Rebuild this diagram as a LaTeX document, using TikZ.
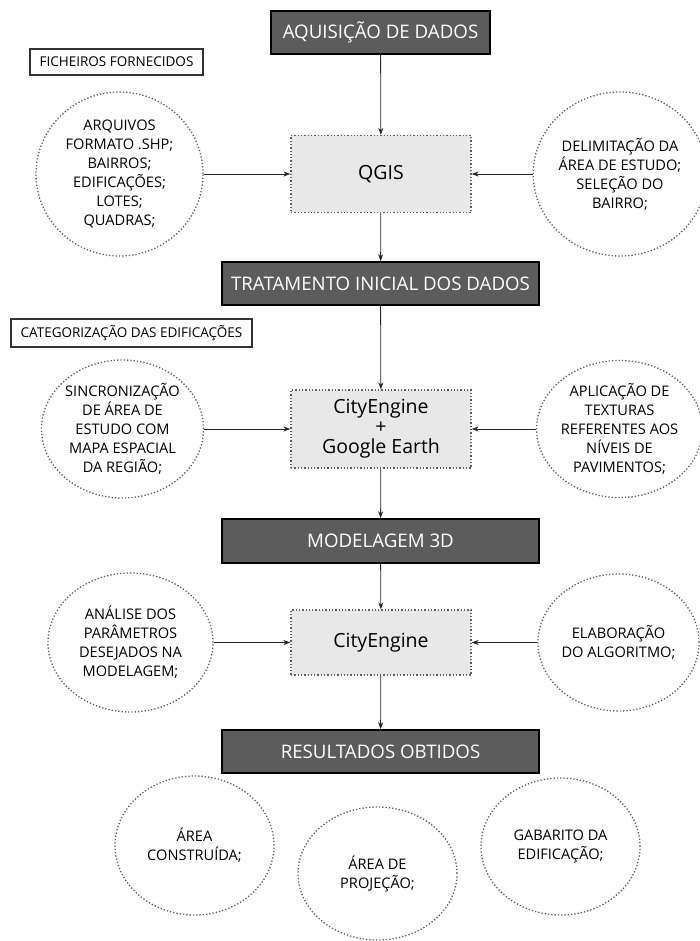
\documentclass[tikz,border=0pt]{standalone}
\usepackage{fontspec}
\setmainfont{Open Sans}
\usetikzlibrary{shapes.geometric,arrows.meta}
\definecolor{stagegray}{RGB}{92,92,92}
\definecolor{toolgray}{RGB}{232,232,232}
\definecolor{dotgray}{RGB}{95,95,95}
\begin{document}
\begin{tikzpicture}[x=1pt,y=-1pt,
	stage/.style={rectangle, draw=black, line width=1.6pt, fill=stagegray, text=white, minimum width=317, minimum height=43, font=\fontsize{18.7}{22}\selectfont},
	tool/.style={rectangle, draw=dotgray, dotted, line width=1.3pt, fill=toolgray, minimum width=180, font=\fontsize{19.5}{24}\selectfont, align=center},
	tag/.style={rectangle, draw=black!80, line width=1.1pt, fill=white, font=\fontsize{13.5}{17}\selectfont, inner sep=3pt},
	bubble/.style={ellipse, draw=dotgray, dotted, line width=1.3pt, inner sep=0pt, align=center, font=\fontsize{14.6}{19}\selectfont},
	flow/.style={draw=black!85, line width=0.8pt, -{Stealth[length=7pt,width=5pt]}}]
	\useasboundingbox (0,0) rectangle (699,941);
	% etapas
	\node (acq)  at (380.5,  32.5)	[stage, minimum width=219]	{AQUISIÇÃO DE DADOS};
	\node (trat) at (380.5, 283.5)	[stage]	{TRATAMENTO INICIAL DOS DADOS};
	\node (mod)  at (380.5, 541.0)	[stage, minimum height=44]	{MODELAGEM 3D};
	\node (res)  at (380.5, 751.5)	[stage]	{RESULTADOS OBTIDOS};
	% ferramentas
	\node (qgis) at (381, 174.0)	[tool, minimum height=77]	{QGIS};
	\node (ce1)  at (381, 429.0)	[tool, minimum height=78]	{CityEngine\\[-4pt]+\\[-4pt]Google Earth};
	\node (ce2)  at (381, 642.5)	[tool, minimum height=65]	{CityEngine};
	% rotulos
	\node (fich) at (116.5,  62)	[tag, minimum width=173, minimum height=26]	{FICHEIROS FORNECIDOS};
	\node (cat)  at (131.5, 333)	[tag, minimum width=241, minimum height=28]	{CATEGORIZAÇÃO DAS EDIFICAÇÕES};
	% entradas
	\node (inL1) at (119.5, 174.0)	[bubble, minimum width=167, minimum height=164]	{ARQUIVOS\\FORMATO .SHP;\\BAIRROS;\\EDIFICAÇÕES;\\LOTES;\\QUADRAS;};
	\node (inR1) at (620.0, 174.0)	[bubble, minimum width=156, minimum height=164]	{DELIMITAÇÃO DA\\ÁREA DE ESTUDO;\\SELEÇÃO DO\\BAIRRO;};
	\node (inL2) at (122.5, 429.0)	[bubble, minimum width=161, minimum height=138]	{SINCRONIZAÇÃO\\DE ÁREA DE\\ESTUDO COM\\MAPA ESPACIAL\\DA REGIÃO;};
	\node (inR2) at (619.5, 429.0)	[bubble, minimum width=159, minimum height=137]	{APLICAÇÃO DE\\TEXTURAS\\REFERENTES AOS\\NÍVEIS DE\\PAVIMENTOS;};
	\node (inL3) at (130.5, 642.5)	[bubble, minimum width=165, minimum height=139]	{ANÁLISE DOS\\PARÂMETROS\\DESEJADOS NA\\MODELAGEM;};
	\node (inR3) at (618.5, 642.5)	[bubble, minimum width=159, minimum height=137]	{ELABORAÇÃO\\DO ALGORITMO;};
	% saidas
	\node (out1) at (194.5, 845.5)	[bubble, minimum width=159, minimum height=139]	{ÁREA\\CONSTRUÍDA;};
	\node (out2) at (377.5, 873.5)	[bubble, minimum width=159, minimum height=133]	{ÁREA DE\\PROJEÇÃO;};
	\node (out3) at (560.5, 846.5)	[bubble, minimum width=159, minimum height=137]	{GABARITO DA\\EDIFICAÇÃO;};
	% fluxo principal
	\draw[flow] (acq) -- (qgis);
	\draw[flow] (qgis) -- (trat);
	\draw[flow] (trat) -- (ce1);
	\draw[flow] (ce1) -- (mod);
	\draw[flow] (mod) -- (ce2);
	\draw[flow] (ce2) -- (res);
	% entradas laterais
	\draw[flow] (inL1) -- (qgis);
	\draw[flow] (inR1) -- (qgis);
	\draw[flow] (inL2) -- (ce1);
	\draw[flow] (inR2) -- (ce1);
	\draw[flow] (inL3) -- (ce2);
	\draw[flow] (inR3) -- (ce2);
\end{tikzpicture}
\end{document}
